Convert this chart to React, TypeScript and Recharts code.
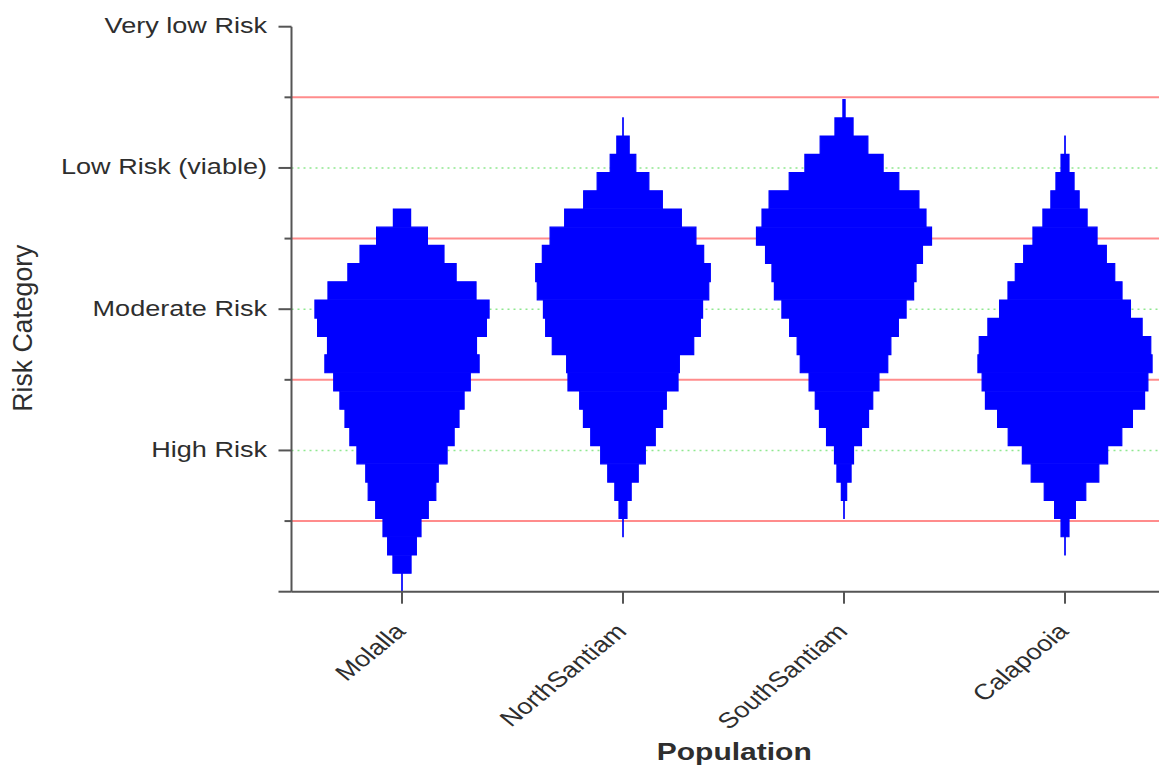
import { ComposedChart, Bar, XAxis, YAxis, ReferenceLine, Label } from "recharts";

const populations = ["Molalla", "NorthSantiam", "SouthSantiam", "Calapooia"];
const popTicks = [1, 2, 3, 4];

// midpoints of the 31 risk-score bins between 0 and 4
const binMid = [
  0.065, 0.194, 0.323, 0.452, 0.581, 0.71, 0.839, 0.968, 1.097, 1.226, 1.355,
  1.484, 1.613, 1.742, 1.871, 2.0, 2.129, 2.258, 2.387, 2.516, 2.645, 2.774,
  2.903, 3.032, 3.161, 3.29, 3.419, 3.548, 3.677, 3.806, 3.935,
];

// half-width of each bean per bin, in x-axis units
const molalla = [
  0.001, 0.041, 0.065, 0.086, 0.119, 0.153, 0.164, 0.204, 0.236, 0.258, 0.281,
  0.309, 0.349, 0.337, 0.382, 0.394, 0.335, 0.245, 0.19, 0.115, 0.039, 0, 0,
  0, 0, 0, 0, 0, 0, 0, 0,
];
const northSantiam = [
  0, 0, 0, 0.001, 0.018, 0.037, 0.069, 0.101, 0.146, 0.179, 0.196, 0.249, 0.255,
  0.32, 0.35, 0.36, 0.388, 0.395, 0.365, 0.33, 0.264, 0.178, 0.117, 0.058,
  0.028, 0.001, 0, 0, 0, 0, 0,
];
const southSantiam = [
  0, 0, 0, 0, 0.001, 0.012, 0.032, 0.043, 0.079, 0.111, 0.13, 0.158, 0.198,
  0.212, 0.246, 0.281, 0.315, 0.326, 0.355, 0.396, 0.371, 0.339, 0.248, 0.177,
  0.108, 0.041, 0.005, 0, 0, 0, 0,
];
const calapooia = [
  0, 0, 0.001, 0.018, 0.047, 0.094, 0.153, 0.193, 0.257, 0.305, 0.36, 0.375,
  0.394, 0.388, 0.349, 0.296, 0.258, 0.225, 0.187, 0.145, 0.1, 0.064, 0.041,
  0.018, 0.001, 0, 0, 0, 0, 0, 0,
];

const riskTicks = [0, 0.5, 1, 1.5, 2, 2.5, 3, 3.5, 4];
const riskLabels = ["", "High Risk", "Moderate Risk", "Low Risk (viable)", "Very low Risk"];
const cutLines = [0.5, 1.5, 2.5, 3.5];
const levelLines = [1, 2, 3];

const spreads = [molalla, northSantiam, southSantiam, calapooia];

const rows = binMid.map((y, k) => {
  const row: Record<string, number> = { y };
  let prev = 0;
  spreads.forEach((s, i) => {
    const c = popTicks[i];
    row[`gap${i}`] = c - s[k] - prev;
    row[`w${i}`] = 2 * s[k];
    prev = c + s[k];
  });
  return row;
});

const FONT = '"Liberation Sans", Arial, sans-serif';
const AXIS = "#555";
const TEXT = "#2e2e2e";
const BEAN = "#0000ff";

const RiskTick = (props: any) => {
  const { x, y, payload } = props;
  const v = payload.value;
  const major = Number.isInteger(v);
  const label = major ? riskLabels[v] : "";
  return (
    <g>
      <line x1={x - (major ? 13 : 7)} x2={x} y1={y} y2={y} stroke={AXIS} strokeWidth={2} />
      {label && (
        <text
          transform={`translate(${x - 24.5},${y + 6.5}) scale(1.23,1)`}
          textAnchor="end"
          fontSize={22}
          fontFamily={FONT}
          fill={TEXT}
        >
          {label}
        </text>
      )}
    </g>
  );
};

const PopTick = (props: any) => {
  const { x, y, payload } = props;
  const name = populations[popTicks.indexOf(payload.value)] ?? "";
  return (
    <g>
      <line x1={x} x2={x} y1={y} y2={y + 12} stroke={AXIS} strokeWidth={2} />
      <text
        transform={`translate(${x + 5},${y + 41}) scale(1.23,1) rotate(-45)`}
        textAnchor="end"
        fontSize={22}
        fontFamily={FONT}
        fill={TEXT}
      >
        {name}
      </text>
    </g>
  );
};

export default function App() {
  return (
    <ComposedChart
      layout="vertical"
      width={1159}
      height={758}
      data={rows}
      margin={{ top: 18.7, right: 0, left: 33.5, bottom: 24.3 }}
      barCategoryGap={0}
      barGap={0}
    >
      <XAxis
        type="number"
        domain={[0.5, 4.4615]}
        ticks={popTicks}
        allowDataOverflow
        height={150}
        tickLine={false}
        tickSize={0}
        tickMargin={0}
        tick={<PopTick />}
        axisLine={{ stroke: AXIS, strokeWidth: 2 }}
      >
        <Label
          content={(p: any) => {
            const vb = p.viewBox;
            return (
              <text
                transform={`translate(${vb.x + vb.width / 2 + 5},${vb.y + 168.3}) scale(1.25,1)`}
                textAnchor="middle"
                fontSize={24}
                fontWeight="bold"
                fontFamily={FONT}
                fill={TEXT}
              >
                Population
              </text>
            );
          }}
        />
      </XAxis>
      <YAxis
        type="number"
        dataKey="y"
        domain={[0, 4]}
        ticks={riskTicks}
        reversed
        allowDataOverflow
        width={250}
        tickLine={false}
        tickSize={0}
        tickMargin={0}
        tick={<RiskTick />}
        axisLine={{ stroke: AXIS, strokeWidth: 2 }}
      >
        <Label
          content={(p: any) => {
            const vb = p.viewBox;
            return (
              <text
                transform={`translate(${vb.x - 10},${vb.y + vb.height / 2 + 19}) scale(1.23,1.21) rotate(-90)`}
                textAnchor="middle"
                fontSize={22}
                fontFamily={FONT}
                fill={TEXT}
              >
                Risk Category
              </text>
            );
          }}
        />
      </YAxis>
      {levelLines.map((v) => (
        <ReferenceLine
          key={`lv${v}`}
          y={v}
          stroke="#8fe88f"
          strokeWidth={1.5}
          strokeDasharray="2 4"
          zIndex={-10}
        />
      ))}
      {cutLines.map((v) => (
        <ReferenceLine key={`ct${v}`} y={v} stroke="#ff8c8c" strokeWidth={2} zIndex={-10} />
      ))}
      {populations.map((p, i) => [
        <Bar
          key={`g${i}`}
          dataKey={`gap${i}`}
          stackId="v"
          fill="none"
          isAnimationActive={false}
        />,
        <Bar
          key={`b${i}`}
          dataKey={`w${i}`}
          name={p}
          stackId="v"
          fill={BEAN}
          stroke={BEAN}
          strokeWidth={1.2}
          isAnimationActive={false}
        />,
      ])}
    </ComposedChart>
  );
}
